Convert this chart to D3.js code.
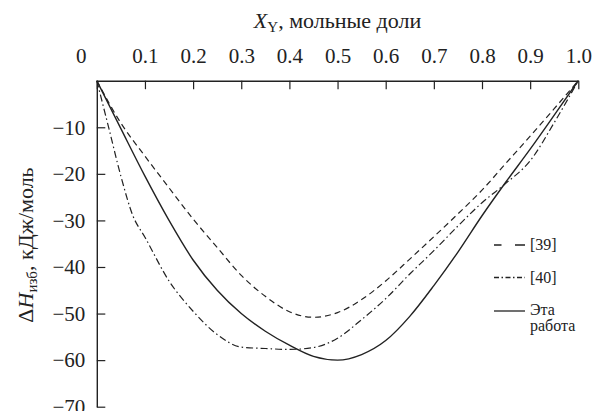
<!DOCTYPE html>
<html><head><meta charset="utf-8">
<script src="https://cdn.jsdelivr.net/npm/d3@7"></script>
<style>
html,body{margin:0;padding:0;background:#fff;}
</style></head>
<body><svg id="c" width="594" height="411"></svg>
<script>
// ---- data ----
const xTickValues = [0,0.1,0.2,0.3,0.4,0.5,0.6,0.7,0.8,0.9,1.0];
const xTickLabels = ["0","0.1","0.2","0.3","0.4","0.5","0.6","0.7","0.8","0.9","1.0"];
const yTickValues = [-10,-20,-30,-40,-50,-60,-70];
const yTickLabels = ["\u221210","\u221220","\u221230","\u221240","\u221250","\u221260","\u221270"];

const xThis = [0,0.05,0.1,0.15,0.2,0.25,0.3,0.35,0.4,0.45,0.5,0.55,0.6,0.65,0.7,0.75,0.8,0.85,0.9,0.95,1];
const yThis = [0,-10.3,-20.5,-30,-38.5,-45,-50,-53.8,-56.8,-59.2,-60,-58.8,-55.8,-50.6,-44,-36.8,-29,-21.7,-14.7,-7.4,0];

const x39 = [0,0.05,0.1,0.15,0.2,0.25,0.3,0.35,0.4,0.45,0.5,0.55,0.6,0.65,0.7,0.75,0.8,0.85,0.9,0.95,1];
const y39 = [0,-9.1,-16.2,-23,-29.7,-35.8,-41.8,-46.3,-49.6,-50.8,-49.8,-47,-43,-38.3,-33.5,-28.6,-23.5,-17.7,-11.9,-6,0];

const x40 = [0,0.025,0.05,0.075,0.1,0.15,0.2,0.25,0.3,0.35,0.4,0.45,0.5,0.55,0.6,0.65,0.7,0.75,0.8,0.85,0.9,0.95,1];
const y40 = [0,-10.2,-20.5,-29,-33.6,-43,-49.5,-54.5,-57.2,-57.5,-57.7,-57.3,-55.3,-51.3,-46.8,-41.5,-36.5,-31.2,-26.2,-22,-17.2,-9,0];

const legendLabels = [["[39]"],["[40]"],["Эта","работа"]];

// ---- chart ----
const FONT = "Liberation Serif";
const svg = d3.select("#c");
const x = d3.scaleLinear().domain([0,1]).range([96.8,578.3]);
const y = d3.scaleLinear().domain([-70,0]).range([406.7,80.7]);
const ink = "#222";

// top axis
const gx = svg.append("g").attr("transform",`translate(0,${y(0)})`)
  .call(d3.axisTop(x).tickValues(xTickValues)
    .tickFormat((d,i)=>xTickLabels[i]).tickSizeInner(-8.5).tickSizeOuter(0).tickPadding(17.4));
gx.attr("font-family",FONT).attr("font-size",21);
gx.selectAll("text").attr("fill",ink).attr("dx",(d,i)=> i===0 ? -16 : 0);
gx.selectAll("line").attr("stroke",ink).attr("stroke-width",1.2);
gx.select(".domain").attr("stroke",ink).attr("stroke-width",1.4);

// left axis
const gy = svg.append("g").attr("transform",`translate(${x(0)},0)`)
  .call(d3.axisLeft(y).tickValues(yTickValues)
    .tickFormat((d,i)=>yTickLabels[i]).tickSizeInner(-8.5).tickSizeOuter(0).tickPadding(11.5));
gy.attr("font-family",FONT).attr("font-size",21);
gy.selectAll("text").attr("fill",ink);
gy.selectAll("line").attr("stroke",ink).attr("stroke-width",1.2);
gy.select(".domain").attr("stroke",ink).attr("stroke-width",1.4);

// curves
const line = d3.line().x(d=>x(d[0])).y(d=>y(d[1])).curve(d3.curveMonotoneX);
const series = [
  {xs:x39, ys:y39, dash:"6,4", w:1.2},
  {xs:x40, ys:y40, dash:"7,3,1.5,3", w:1.2},
  {xs:xThis, ys:yThis, dash:null, w:1.4}
];
series.forEach(s=>{
  svg.append("path").datum(s.xs.map((v,i)=>[v,s.ys[i]]))
    .attr("d",line).attr("fill","none").attr("stroke",ink)
    .attr("stroke-width",s.w).attr("stroke-dasharray",s.dash);
});

// legend
const legDash = ["7.5,13.5,11","5,2.5,1.5,2.5",null];
const legY = [245,277.5,311];
legendLabels.forEach((lab,i)=>{
  svg.append("line").attr("x1",494).attr("x2",525).attr("y1",legY[i]).attr("y2",legY[i])
    .attr("stroke",ink).attr("stroke-width",1.3).attr("stroke-dasharray",legDash[i]);
  const t = svg.append("text").attr("x",530).attr("y",legY[i]+(lab.length>1?3.5:5)).attr("font-size",16)
    .attr("font-family",FONT).attr("fill",ink);
  lab.forEach((s,j)=>t.append("tspan").attr("x",530).attr("dy",j===0?0:16.5).text(s));
});

// x title
const tx = svg.append("text").attr("x",x(0.5)).attr("y",28).attr("text-anchor","middle")
  .attr("font-size",22).attr("font-family",FONT).attr("fill",ink);
tx.append("tspan").attr("font-style","italic").text("X");
tx.append("tspan").attr("font-size",15).attr("dy",4).text("Y");
tx.append("tspan").attr("dy",-4).text(", мольные доли");

// y title
const ty = svg.append("text").attr("transform","translate(33,245) rotate(-90)")
  .attr("text-anchor","middle").attr("font-size",22).attr("font-family",FONT).attr("fill",ink);
ty.append("tspan").text("Δ");
ty.append("tspan").attr("font-style","italic").text("H");
ty.append("tspan").attr("font-size",15).attr("dy",4).text("изб");
ty.append("tspan").attr("dy",-4).text(", кДж/моль");
</script></body></html>
